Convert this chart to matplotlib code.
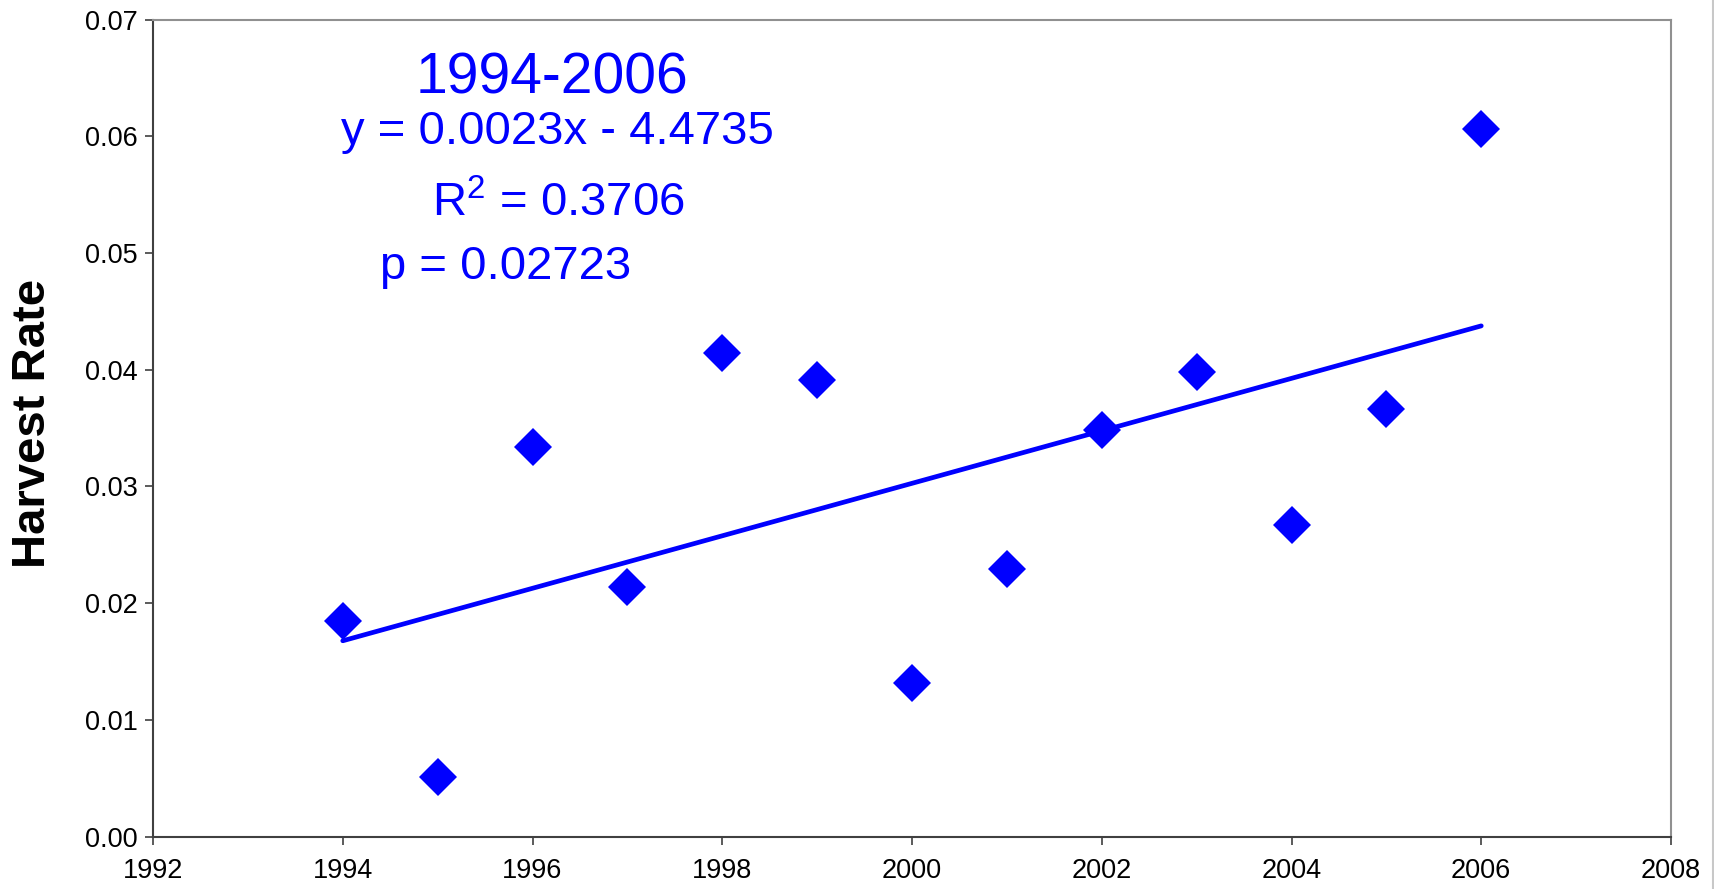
import numpy as np
import matplotlib
matplotlib.use("Agg")
import matplotlib.pyplot as plt
from matplotlib.lines import Line2D

years = [1994, 1995, 1996, 1997, 1998, 1999, 2000, 2001, 2002, 2003, 2004, 2005, 2006]
harvest_rate = [0.0185, 0.0051, 0.0334, 0.0214, 0.0414, 0.0391, 0.0132,
                0.0229, 0.0348, 0.0398, 0.0267, 0.0366, 0.0606]
x_ticks = [1992, 1994, 1996, 1998, 2000, 2002, 2004, 2006, 2008]
y_ticks = [0.00, 0.01, 0.02, 0.03, 0.04, 0.05, 0.06, 0.07]
title_text = "1994-2006"
eq_text = "y = 0.0023x - 4.4735"
r2_text = "R$^{2}$ = 0.3706"
p_text = "p = 0.02723"
ylabel = "Harvest Rate"

plt.rcParams['font.family'] = ['Liberation Sans', 'DejaVu Sans']
plt.rcParams['mathtext.fontset'] = 'custom'
plt.rcParams['mathtext.rm'] = 'Liberation Sans'
plt.rcParams['mathtext.it'] = 'Liberation Sans'

fig = plt.figure(figsize=(17.15, 8.89), dpi=100)
ax = fig.add_axes([153/1715, 1 - 836.7/889, (1671 - 153)/1715, (836.7 - 19.5)/889])

blue = '#0000FF'
ax.plot(years, harvest_rate, linestyle='none', marker='D', markersize=19,
        color=blue, markeredgewidth=0, zorder=3)

coef = np.polyfit(years, harvest_rate, 1)
fit_x = np.array([years[0], years[-1]])
ax.plot(fit_x, np.polyval(coef, fit_x), color=blue, linewidth=3.4, solid_capstyle='round', zorder=2)

ax.set_xlim(1992, 2008)
ax.set_ylim(0, 0.07)
ax.set_xticks(x_ticks)
ax.set_yticks(y_ticks)
ax.set_xticklabels([str(t) for t in x_ticks])
ax.set_yticklabels([f"{t:.2f}" for t in y_ticks])
ax.tick_params(axis='both', direction='out', length=6, width=1.2, color='#404040',
               labelsize=19.5, labelcolor='black')
ax.tick_params(axis='x', pad=9)
ax.tick_params(axis='y', pad=5)

for s in ['left', 'bottom']:
    ax.spines[s].set_color('#404040')
    ax.spines[s].set_linewidth(1.5)
for s in ['top', 'right']:
    ax.spines[s].set_color('#909090')
    ax.spines[s].set_linewidth(1.5)

fig.text(33/1715, 1 - 423/889, ylabel, rotation=90, fontsize=34, fontweight='bold',
         ha='center', va='center')

def fx(px):
    return px / 1715
def fy(py):
    return 1 - py / 889

fig.text(fx(552), fy(78), title_text, fontsize=41, color=blue, ha='center', va='center')
fig.text(fx(557), fy(132), eq_text, fontsize=34, color=blue, ha='center', va='center')
fig.text(fx(558), fy(216), r2_text, fontsize=34, color=blue, ha='center', va='baseline')
fig.text(fx(506), fy(267), p_text, fontsize=34, color=blue, ha='center', va='center')

fig.add_artist(Line2D([1713/1715, 1713/1715], [0, 1], transform=fig.transFigure,
                      color='#C8C8C8', linewidth=1.5))

fig.savefig('out.png', dpi=100, facecolor='white')
